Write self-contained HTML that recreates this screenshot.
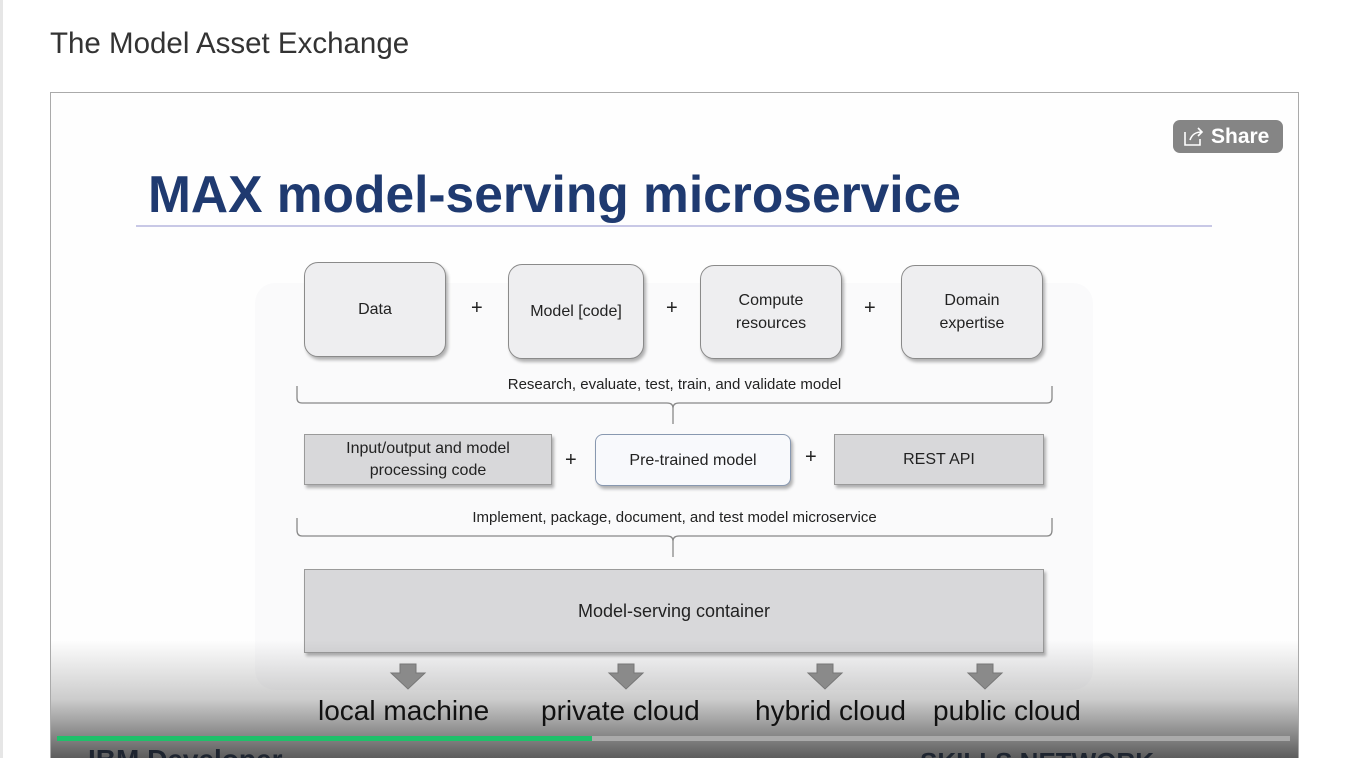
<!DOCTYPE html>
<html><head><meta charset="utf-8"><style>
html,body{margin:0;width:1345px;height:758px;overflow:hidden}
body{background:#fff;font-family:"Liberation Sans",sans-serif;position:relative}
.a{position:absolute}
.box{position:absolute;background:#eeeef0;border:1.5px solid #8a8a8a;border-radius:14px;box-shadow:2px 3px 3px rgba(0,0,0,.3);display:flex;align-items:center;justify-content:center;text-align:center;font-size:16px;color:#222;line-height:23px}
.sq{border-radius:0;background:#d8d8da;border-color:#9a9a9a}
.plus{position:absolute;font-size:20px;color:#222}
.lbl{position:absolute;font-family:"Liberation Sans Narrow","Liberation Sans",sans-serif;font-size:28px;color:#111;top:695px}
</style></head><body>
<div class="a" style="left:50px;top:27px;font-size:29.5px;color:#333">The Model Asset Exchange</div>
<div class="a" style="left:0;top:0;width:3px;height:758px;background:#e6e6e6"></div>
<div class="a" style="left:50px;top:92px;width:1247px;height:680px;border:1px solid #aaa;background:#fefefe;overflow:hidden"></div>
<div class="a" style="left:255px;top:283px;width:838px;height:407px;background:#fafafb;border-radius:20px"></div>
<div class="a" style="left:148px;top:164px;font-size:51.5px;font-weight:bold;color:#1f3a70">MAX model-serving microservice</div>
<div class="a" style="left:136px;top:225px;width:1076px;height:2px;background:#c8c8e6"></div>
<div class="a" style="left:1173px;top:120px;width:110px;height:33px;background:#858585;border-radius:7px;color:#fff;font-weight:bold;font-size:21px;line-height:33px;text-indent:38px">Share</div>
<svg class="a" style="left:1182px;top:126px" width="24" height="22"><path d="M3 6v13h15v-6" fill="none" stroke="#fff" stroke-width="1.6"/><path d="M8 14c2-6 6-8 12-8M16 2l4 4-4 4" fill="none" stroke="#fff" stroke-width="1.6"/></svg>

<div class="box" style="left:304px;top:262px;width:140px;height:93px">Data</div>
<div class="plus" style="left:471px;top:297px">+</div>
<div class="box" style="left:508px;top:264px;width:134px;height:93px">Model [code]</div>
<div class="plus" style="left:666px;top:297px">+</div>
<div class="box" style="left:700px;top:265px;width:140px;height:92px">Compute<br>resources</div>
<div class="plus" style="left:864px;top:297px">+</div>
<div class="box" style="left:901px;top:265px;width:140px;height:92px">Domain<br>expertise</div>
<div class="a" style="left:296px;width:757px;top:376px;text-align:center;font-size:15px;color:#222">Research, evaluate, test, train, and validate model</div>
<svg class="a" style="left:0;top:0" width="1345" height="758">
<path d="M297 386v12q0 5 5 5h365q6 0 6 5v16M1052 386v12q0 5-5 5h-368q-6 0-6 5" fill="none" stroke="#888" stroke-width="1.3"/>
<path d="M297 518v12q0 6 5 6h365q6 0 6 5v16M1052 518v12q0 6-5 6h-368q-6 0-6 5" fill="none" stroke="#888" stroke-width="1.3"/>
</svg>
<div class="box sq" style="left:304px;top:434px;width:246px;height:49px;line-height:22px">Input/output and model<br>processing code</div>
<div class="plus" style="left:565px;top:449px">+</div>
<div class="box" style="left:595px;top:434px;width:194px;height:50px;border-radius:8px;background:#f8f9fc;border-color:#8898b0">Pre-trained model</div>
<div class="plus" style="left:805px;top:446px">+</div>
<div class="box sq" style="left:834px;top:434px;width:208px;height:49px">REST API</div>
<div class="a" style="left:296px;width:757px;top:509px;text-align:center;font-size:15px;color:#222">Implement, package, document, and test model microservice</div>
<div class="box sq" style="left:304px;top:569px;width:738px;height:82px;font-size:18px">Model-serving container</div>

<div class="a" style="left:51px;top:640px;width:1247px;height:118px;background:linear-gradient(rgba(90,90,90,0) 0%,rgba(90,90,90,0.3) 50%,rgba(75,75,75,0.9) 100%)"></div>
<svg class="a" style="left:0;top:0" width="1345" height="758">
<g fill="#8a8a8a" stroke="#777"><path d="M400 664h16v9h9l-17 16-17-16h9z"/><path d="M618 664h16v9h9l-17 16-17-16h9z"/><path d="M817 664h16v9h9l-17 16-17-16h9z"/><path d="M977 664h16v9h9l-17 16-17-16h9z"/></g>
</svg>
<div class="lbl" style="left:318px">local machine</div>
<div class="lbl" style="left:541px">private cloud</div>
<div class="lbl" style="left:755px">hybrid cloud</div>
<div class="lbl" style="left:933px">public cloud</div>
<div class="a" style="left:57px;top:736px;width:1233px;height:5px;background:#aaa"></div>
<div class="a" style="left:57px;top:736px;width:535px;height:5px;background:#1fc06a"></div>
<div class="a" style="left:88px;top:744px;font-size:28px;font-weight:bold;color:#1e2530">IBM Developer</div>
<div class="a" style="left:920px;top:747px;font-size:26px;font-weight:bold;color:#1e2530">SKILLS NETWORK</div>
</body></html>
